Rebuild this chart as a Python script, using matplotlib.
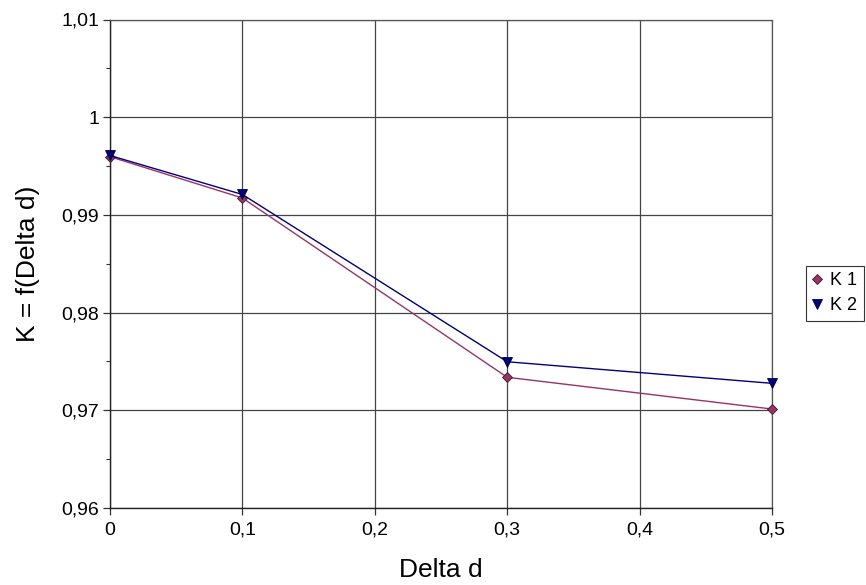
import matplotlib
matplotlib.use("Agg")
import matplotlib.pyplot as plt
from matplotlib.ticker import MultipleLocator, FuncFormatter

plt.rcParams['font.family'] = ['Liberation Sans', 'DejaVu Sans']

delta_d = [0.0, 0.1, 0.3, 0.5]
k1 = [0.99596, 0.99173, 0.97338, 0.97013]
k2 = [0.99608, 0.99209, 0.97497, 0.97276]

fig = plt.figure(figsize=(8.66, 5.85), dpi=100)
ax = fig.add_axes([110 / 866, 77 / 585, 662 / 866, 488.5 / 585])

ax.plot(delta_d, k1, color='#993366', lw=1.0, marker='D', ms=5,
        mfc='#993366', mec='#3a1a2a', mew=0.6, label='K 1', zorder=3,
        clip_on=False)
ax.plot(delta_d, k2, color='#000080', lw=1.0, marker='v', ms=7,
        mfc='#000080', mec='#000040', mew=0.6, label='K 2', zorder=3,
        clip_on=False)

ax.set_xlim(0, 0.5)
ax.set_ylim(0.96, 1.01)
ax.xaxis.set_major_locator(MultipleLocator(0.1))
ax.yaxis.set_major_locator(MultipleLocator(0.01))
ax.yaxis.set_minor_locator(MultipleLocator(0.005))

def comma_fmt(dec):
    def f(v, pos):
        s = f"{v:.{dec}f}".rstrip('0').rstrip('.')
        return s.replace('.', ',')
    return f

ax.xaxis.set_major_formatter(FuncFormatter(comma_fmt(1)))
ax.yaxis.set_major_formatter(FuncFormatter(comma_fmt(2)))

ax.grid(True, which='major', color='#444444', lw=0.9)
ax.set_axisbelow(True)
for s in ['top', 'right']:
    ax.spines[s].set_color('#555555')
    ax.spines[s].set_linewidth(0.9)
for s in ['left', 'bottom']:
    ax.spines[s].set_color('#222222')
    ax.spines[s].set_linewidth(1.0)

ax.tick_params(axis='both', which='major', direction='out', length=5,
               width=0.9, color='#333333', labelsize=14, pad=3)
ax.tick_params(axis='x', which='major', pad=5)
ax.tick_params(axis='y', which='minor', direction='out', length=3, width=0.8,
               color='#333333')

ax.set_xlabel('Delta d', fontsize=19, labelpad=14)
ax.set_ylabel('K = f(Delta d)', fontsize=19, labelpad=15)

leg = fig.legend(loc='upper left', bbox_to_anchor=(806 / 866, 1 - 266 / 585),
                 frameon=True, fancybox=False, fontsize=13,
                 handlelength=0.5, handletextpad=0.5, borderpad=0.35,
                 labelspacing=0.45, borderaxespad=0)
leg.get_frame().set_edgecolor('#000000')
leg.get_frame().set_linewidth(0.8)
for h in leg.legend_handles:
    h.set_linestyle('')
leg.legend_handles[0].set_markersize(5)
leg.legend_handles[1].set_markersize(6.5)

fig.savefig('out.png', dpi=100)
